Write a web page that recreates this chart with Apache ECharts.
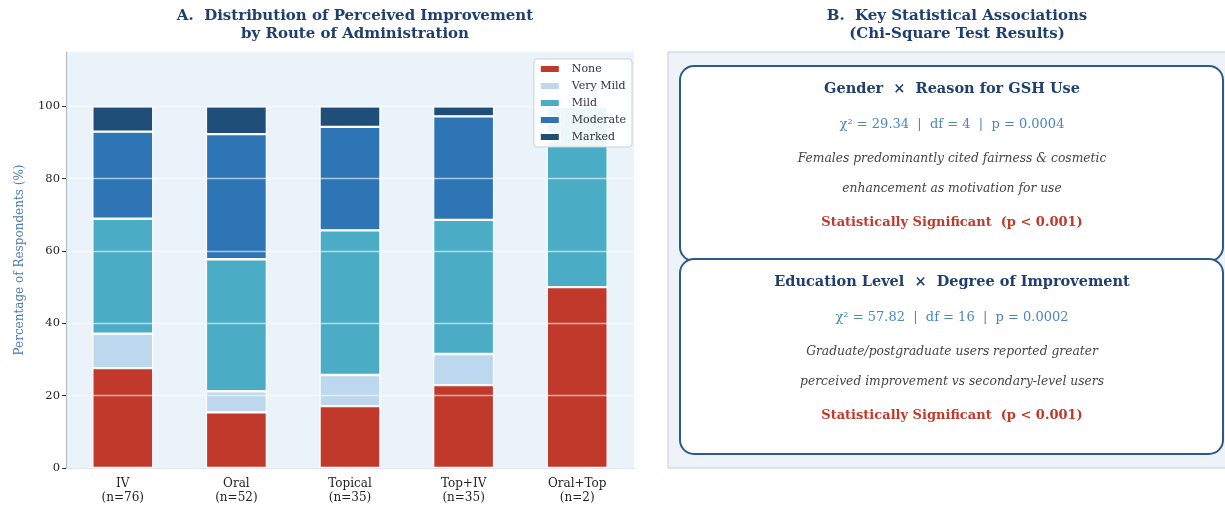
<!DOCTYPE html>
<html>
<head>
<meta charset="utf-8">
<script src="https://cdn.jsdelivr.net/npm/echarts@6/dist/echarts.min.js"></script>
<style>
  html, body { margin: 0; padding: 0; background: #ffffff; }
  #chart { width: 1225px; height: 506px; }
</style>
</head>
<body>
<div id="chart"></div>
<script>
// Route of administration (with sample size)
const categories = ['IV\n(n=76)', 'Oral\n(n=52)', 'Topical\n(n=35)', 'Top+IV\n(n=35)', 'Oral+Top\n(n=2)'];

// Percentage of respondents per improvement level
const noneVals     = [27.6, 15.4, 17.1, 22.9, 50.0];
const veryMildVals = [9.5, 5.8, 8.6, 8.6, 0];
const mildVals     = [31.8, 36.5, 40.0, 37.1, 50.0];
const moderateVals = [24.1, 34.6, 28.6, 28.6, 0];
const markedVals   = [7.0, 7.7, 5.7, 2.8, 0];

const levelNames = ['None', 'Very Mild', 'Mild', 'Moderate', 'Marked'];
const yTicks = [0, 20, 40, 60, 80, 100];

// Chi-square summary cards
const assocTitles = ['Gender  \u00d7  Reason for GSH Use', 'Education Level  \u00d7  Degree of Improvement'];
const assocStats = ['\u03c7\u00b2 = 29.34  |  df = 4  |  p = 0.0004', '\u03c7\u00b2 = 57.82  |  df = 16  |  p = 0.0002'];
const assocNotes = [
  ['Females predominantly cited fairness & cosmetic', 'enhancement as motivation for use'],
  ['Graduate/postgraduate users reported greater', 'perceived improvement vs secondary-level users']
];
const assocVerdicts = ['Statistically Significant  (p < 0.001)', 'Statistically Significant  (p < 0.001)'];

const colors = ['#c0392b', '#bdd7ee', '#4bacc6', '#2e75b6', '#1f4e79'];
const seriesData = [noneVals, veryMildVals, mildVals, moderateVals, markedVals];
const SERIF = '"DejaVu Serif", "Liberation Serif", serif';
const NAVY = '#1f3f6e';

const chart = echarts.init(document.getElementById('chart'), null, { renderer: 'canvas' });

// Right-hand panel: background and two rounded cards
const graphics = [];
graphics.push({
  type: 'rect', silent: true, z: 0,
  shape: { x: 668, y: 52, width: 560, height: 416 },
  style: { fill: '#edf3f9', stroke: '#c8d0da', lineWidth: 1 }
});
const cardTops = [66, 259];
const cardH = 195;
const cx = 952;
cardTops.forEach((top, i) => {
  graphics.push({
    type: 'rect', silent: true, z: 1,
    shape: { x: 680, y: top, width: 543, height: cardH, r: 14 },
    style: { fill: '#ffffff', stroke: '#2b5a8e', lineWidth: 2 }
  });
  graphics.push({
    type: 'text', silent: true, z: 2, x: cx, y: top + 23,
    style: { text: assocTitles[i], font: 'bold 14.5px ' + SERIF, fill: NAVY, align: 'center', verticalAlign: 'middle' }
  });
  graphics.push({
    type: 'text', silent: true, z: 2, x: cx, y: top + 59,
    style: { text: assocStats[i], font: '13px ' + SERIF, fill: '#4a86c0', align: 'center', verticalAlign: 'middle' }
  });
  assocNotes[i].forEach((line, j) => {
    graphics.push({
      type: 'text', silent: true, z: 2, x: cx, y: top + 93 + j * 30,
      style: { text: line, font: 'italic 12.3px ' + SERIF, fill: '#444444', align: 'center', verticalAlign: 'middle' }
    });
  });
  graphics.push({
    type: 'text', silent: true, z: 2, x: cx, y: top + 157,
    style: { text: assocVerdicts[i], font: 'bold 13px ' + SERIF, fill: '#c0392b', align: 'center', verticalAlign: 'middle' }
  });
});

const option = {
  backgroundColor: '#ffffff',
  animation: false,
  title: [
    {
      text: 'A.  Distribution of Perceived Improvement\nby Route of Administration',
      left: 350, top: 2, textAlign: 'center',
      textStyle: { fontFamily: SERIF, fontWeight: 'bold', fontSize: 15, color: NAVY, lineHeight: 18 }
    },
    {
      text: 'B.  Key Statistical Associations\n(Chi-Square Test Results)',
      left: 952, top: 2, textAlign: 'center',
      textStyle: { fontFamily: SERIF, fontWeight: 'bold', fontSize: 15, color: NAVY, lineHeight: 18 }
    }
  ],
  legend: {
    data: levelNames,
    orient: 'vertical',
    right: 593, top: 59,
    itemWidth: 20, itemHeight: 8, itemGap: 5,
    padding: [4, 6, 4, 5],
    backgroundColor: 'rgba(255,255,255,0.9)',
    borderColor: '#d0d0d0', borderWidth: 1, borderRadius: 3,
    icon: 'rect',
    z: 10,
    textStyle: { fontFamily: SERIF, fontSize: 11, color: '#333333', lineHeight: 12, padding: [0, 0, 0, 7] }
  },
  grid: {
    left: 66, right: 591, top: 52, bottom: 38,
    show: true, backgroundColor: '#eaf2fa', borderWidth: 0
  },
  xAxis: {
    type: 'category',
    data: categories,
    axisLine: { lineStyle: { color: '#b4bcc8', width: 1.2 } },
    axisTick: { alignWithLabel: true, length: 4, lineStyle: { color: '#333' } },
    axisLabel: { fontFamily: SERIF, fontSize: 12, color: '#222', lineHeight: 14, margin: 9 },
    splitLine: { show: false }
  },
  yAxis: {
    type: 'value',
    // drawn above the bars so the light grid shows across them
    z: 3,
    min: 0, max: 115,
    name: 'Percentage of Respondents (%)',
    nameLocation: 'middle', nameGap: 40,
    nameTextStyle: { fontFamily: SERIF, fontSize: 12, color: '#4a7ab5' },
    axisLine: { show: true, lineStyle: { color: '#b4bcc8', width: 1.2 } },
    axisTick: { show: true, length: 4, lineStyle: { color: '#333' }, customValues: yTicks },
    axisLabel: { fontFamily: SERIF, fontSize: 11.5, color: '#222', margin: 6, customValues: yTicks },
    splitLine: { show: true, lineStyle: { color: 'rgba(255,255,255,0.6)', width: 1.3 } }
  },
  series: levelNames.map((name, i) => ({
    name: name,
    type: 'bar',
    stack: 'total',
    barWidth: 61,
    data: seriesData[i],
    itemStyle: { color: colors[i], borderColor: '#ffffff', borderWidth: 1.2 },
    emphasis: { disabled: true }
  })),
  graphic: graphics
};

chart.setOption(option);
</script>
</body>
</html>
